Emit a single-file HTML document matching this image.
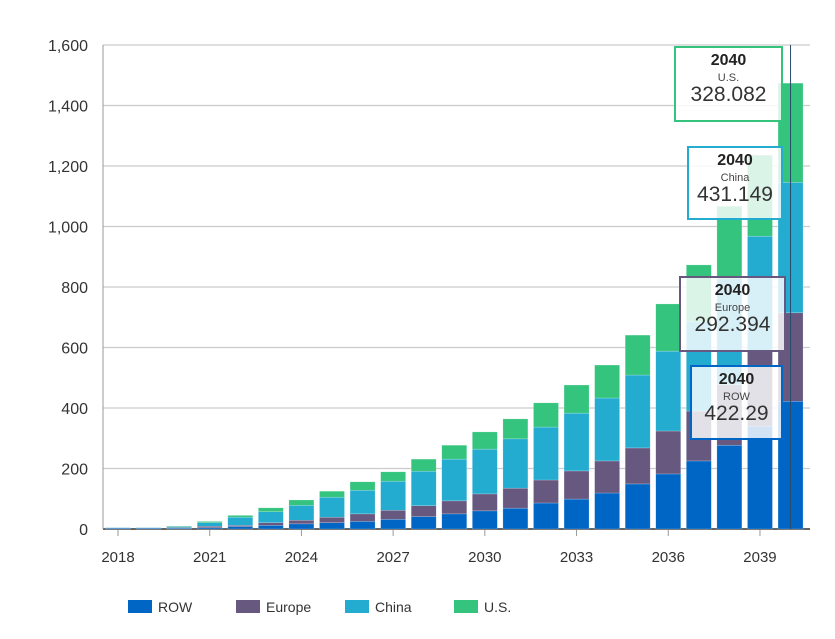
<!DOCTYPE html>
<html><head><meta charset="utf-8"><style>
body{margin:0;background:#fff;font-family:"Liberation Sans",sans-serif}
svg{display:block}
.tt{position:absolute;background:rgba(255,255,255,0.82);border:2px solid;text-align:center;box-sizing:border-box;color:#222}
.tt b{display:block;font-size:16px;margin-top:4px}
.tt .s{display:block;font-size:11px;color:#444;margin-top:2px}
.tt .v{display:block;font-size:21px;font-weight:300;color:#333;line-height:22px}
</style></head><body>
<div style="position:relative;width:835px;height:639px">
<svg id="c" width="835" height="639"></svg>
<div class="tt" style="left:674px;top:46px;width:109px;height:76px;border-color:#35c47e"><b>2040</b><span class="s">U.S.</span><span class="v">328.082</span></div>
<div class="tt" style="left:687px;top:146px;width:96px;height:74px;border-color:#23acd0"><b>2040</b><span class="s">China</span><span class="v">431.149</span></div>
<div class="tt" style="left:679px;top:276px;width:107px;height:76px;border-color:#66587f"><b>2040</b><span class="s">Europe</span><span class="v">292.394</span></div>
<div class="tt" style="left:690px;top:365px;width:93px;height:75px;border-color:#0066c5"><b>2040</b><span class="s">ROW</span><span class="v">422.29</span></div>
</div>
<script>
const years=[2018,2019,2020,2021,2022,2023,2024,2025,2026,2027,2028,2029,2030,2031,2032,2033,2034,2035,2036,2037,2038,2039,2040];
const row=[3,3,3,4,8,12,17,21,25,32,41,50,60,69,86,99,119,149,182,225,277,340,422.29];
const europe=[1,1,2,5,4,9,12,18,25,30,36,43,56,66,76,93,106,119,142,165,200,250,292.394];
const china=[1,1,3,12,27,36,49,66,78,96,114,138,148,163,175,191,208,241,264,295,350,378,431.149];
const us=[0,0,2,4,6,13,18,20,28,31,40,46,57,66,80,93,109,132,156,188,240,268,328.082];
const yTicks=[0,200,400,600,800,1000,1200,1400,1600];
const xTickYears=[2018,2021,2024,2027,2030,2033,2036,2039];
const series=[["ROW",row,"#0066c5"],["Europe",europe,"#66587f"],["China",china,"#23acd0"],["U.S.",us,"#35c47e"]];
const svg=document.getElementById('c');const NS="http://www.w3.org/2000/svg";
function el(t,a,p){const e=document.createElementNS(NS,t);for(const k in a)e.setAttribute(k,a[k]);(p||svg).appendChild(e);return e;}
const y=v=>529-v*484/1600;
const x=yr=>118+(yr-2018)*30.57;
yTicks.forEach(t=>{
 const g=el('line',{x1:103,x2:810,y1:y(t),y2:y(t),stroke:t?'#ccc':'#333','stroke-width':t?1.2:1.5});
 
 
 const l=el('text',{x:88,y:y(t)+6,'text-anchor':'end','font-size':16,fill:'#333'});
 l.textContent=t.toLocaleString('en-US');
 
 
});
const ax=el('line',{x1:103,x2:103,y1:45,y2:529,stroke:'#999'});


xTickYears.forEach(yr=>{
 el('line',{x1:x(yr),x2:x(yr),y1:530,y2:536,stroke:'#999'});
 const l=el('text',{x:x(yr),y:562,'text-anchor':'middle','font-size':15,fill:'#333'});
 l.textContent=yr;
 
 
});
years.forEach((yr,i)=>{
 let base=0;
 series.forEach(([n,arr,c])=>{
  const v=arr[i];
  const r=el('rect',{x:x(yr)-12.5,width:25,y:y(base+v),height:y(base)-y(base+v),fill:c,stroke:'rgba(255,255,255,0.4)','stroke-width':0.5});
  
  
  base+=v;
 });
});
const cl=el('line',{x1:x(2040),x2:x(2040),y1:45,y2:529,stroke:'#2a4a6a','stroke-width':1});


const lx=[128,236,345,454];
series.forEach(([n,arr,c],i)=>{
 const r=el('rect',{x:lx[i],y:600,width:24,height:13,fill:c});
 
 
 const t=el('text',{x:lx[i]+30,y:612,'font-size':14,fill:'#333'});
 t.textContent=n;
 
 
});
</script>
</body></html>
